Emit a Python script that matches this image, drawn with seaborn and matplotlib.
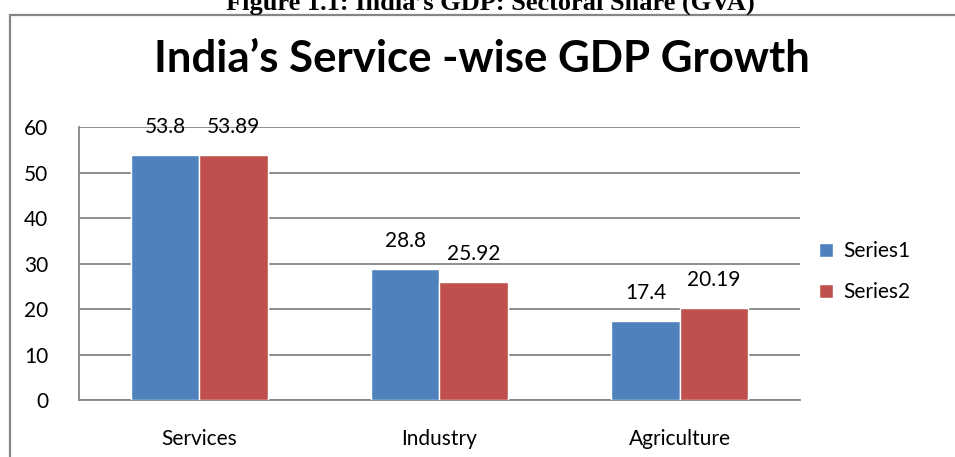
import pandas as pd
import matplotlib.pyplot as plt
import seaborn as sns
from matplotlib.patches import Rectangle

# values
sectors = ["Services", "Industry", "Agriculture"]
series1 = [53.8, 28.8, 17.4]
series2 = [53.89, 25.92, 20.19]
series_names = ["Series1", "Series2"]
label_text = {"Series1": ["53.8", "28.8", "17.4"],
              "Series2": ["53.89", "25.92", "20.19"]}

df = pd.DataFrame({
    "sector": sectors * 2,
    "value": series1 + series2,
    "series": [series_names[0]] * 3 + [series_names[1]] * 3,
})

sns.set_style("white", {"text.color": "black", "xtick.color": "black",
                        "ytick.color": "black"})
plt.rcParams['font.family'] = ['Lato', 'DejaVu Sans']

fig = plt.figure(figsize=(9.55, 4.57), dpi=100)
ax = fig.add_axes([0.0827, 0.1247, 0.755, 0.597])

palette = {"Series1": "#4F81BD", "Series2": "#C0504D"}
sns.barplot(data=df, x="sector", y="value", hue="series", palette=palette,
            width=0.57, saturation=1, ax=ax, zorder=3)

FS = 15
for cont, name in zip(ax.containers, series_names):
    ax.bar_label(cont, labels=label_text[name], padding=13, fontsize=FS,
                 color="black")

ax.set_ylim(0, 60)
ax.set_yticks(range(0, 61, 10))
ax.set_xlim(-0.5, 2.5)
ax.set_xlabel("")
ax.set_ylabel("")
ax.yaxis.grid(True, color="#868686", linewidth=1.3, zorder=0)
ax.tick_params(axis="both", labelsize=FS, length=0, labelcolor="black")
ax.tick_params(axis="x", pad=21)
ax.tick_params(axis="y", pad=22)
for side in ["top", "right"]:
    ax.spines[side].set_visible(False)
for side in ["left", "bottom"]:
    ax.spines[side].set_color("#868686")
    ax.spines[side].set_linewidth(1.3)

leg = ax.legend(loc="center left", bbox_to_anchor=(1.0, 0.47), frameon=False,
                fontsize=FS, handlelength=0.7, handleheight=0.7,
                handletextpad=0.5, labelspacing=1.0)
for t in leg.get_texts():
    t.set_color("black")

# outer chart frame, runs off the bottom and right edge
fig.patches.append(Rectangle((10 / 955, -0.05), 1.2, 1 - 15 / 457 + 0.05,
                             transform=fig.transFigure, fill=False,
                             edgecolor="#868686", linewidth=1.6))

fig.text(0.505, 1 - 72 / 457, "India\u2019s Service -wise GDP Growth", ha="center",
         va="baseline", fontsize=31.5, fontweight="bold", color="black",
         family=['Lato', 'DejaVu Sans'])
fig.text(0.513, 1.0 - 10 / 457, "Figure 1.1: India\u2019s GDP: Sectoral Share (GVA)",
         ha="center", va="baseline", fontsize=19, fontweight="bold", color="black",
         family=['Liberation Serif', 'DejaVu Serif'])

fig.savefig("out.png", dpi=100)
